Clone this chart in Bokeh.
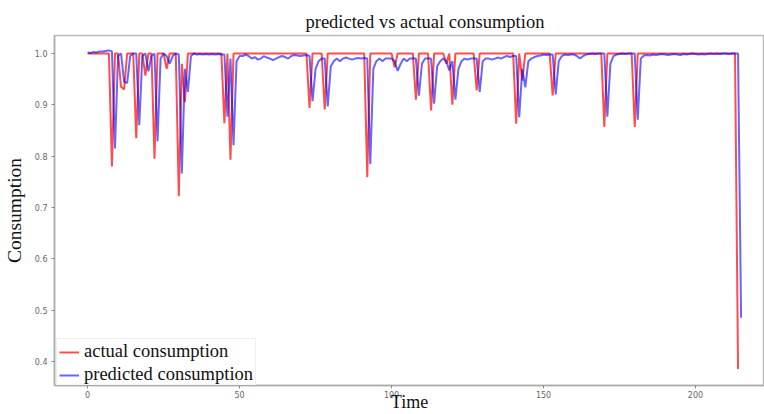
from bokeh.plotting import figure
from bokeh.models import Range1d, FixedTicker, Legend, LegendItem, NumeralTickFormatter
from bokeh.embed import file_html
from bokeh.resources import INLINE

title_text = "predicted vs actual consumption"
x_label = "Time"
y_label = "Consumption"
x_ticks = [0, 50, 100, 150, 200]
y_ticks = [0.4, 0.5, 0.6, 0.7, 0.8, 0.9, 1.0]

actual = [
    1.0, 1.0, 1.0, 1.0, 1.0, 1.0, 1.0, 1.0, 0.78, 1.0,      # 0-9
    1.0, 0.935, 0.93, 1.0, 1.0, 1.0, 0.835, 1.0, 1.0, 0.957,  # 10-19
    1.0, 1.0, 0.795, 1.0, 1.0, 1.0, 0.97, 1.0, 1.0, 1.0,      # 20-29
    0.722, 0.98, 0.905, 1.0, 1.0, 1.0, 1.0, 1.0, 1.0, 1.0,    # 30-39
    1.0, 1.0, 1.0, 1.0, 1.0, 0.864, 1.0, 0.793, 1.0, 1.0,     # 40-49
    1.0, 1.0, 1.0, 1.0, 1.0, 1.0, 1.0, 1.0, 1.0, 1.0,         # 50-59
    1.0, 1.0, 1.0, 1.0, 1.0, 1.0, 1.0, 1.0, 1.0, 1.0,         # 60-69
    1.0, 1.0, 1.0, 0.894, 1.0, 1.0, 1.0, 1.0, 0.891, 1.0,     # 70-79
    1.0, 1.0, 1.0, 1.0, 1.0, 1.0, 1.0, 1.0, 1.0, 1.0,         # 80-89
    1.0, 1.0, 0.759, 1.0, 1.0, 1.0, 1.0, 1.0, 1.0, 1.0,       # 90-99
    1.0, 0.973, 1.0, 1.0, 1.0, 1.0, 1.0, 1.0, 0.91, 1.0,      # 100-109
    1.0, 1.0, 1.0, 0.889, 1.0, 1.0, 1.0, 1.0, 0.98, 1.0,      # 110-119
    0.90, 1.0, 1.0, 1.0, 1.0, 1.0, 1.0, 1.0, 0.928, 1.0,      # 120-129
    1.0, 1.0, 1.0, 1.0, 1.0, 1.0, 1.0, 1.0, 1.0, 1.0,         # 130-139
    1.0, 0.863, 1.0, 0.947, 1.0, 1.0, 1.0, 1.0, 1.0, 1.0,     # 140-149
    1.0, 1.0, 1.0, 0.918, 1.0, 1.0, 1.0, 1.0, 1.0, 1.0,       # 150-159
    1.0, 1.0, 1.0, 1.0, 1.0, 1.0, 1.0, 1.0, 1.0, 1.0,         # 160-169
    0.857, 1.0, 1.0, 1.0, 1.0, 1.0, 1.0, 1.0, 1.0, 1.0,       # 170-179
    0.857, 1.0, 1.0, 1.0, 1.0, 1.0, 1.0, 1.0, 1.0, 1.0,       # 180-189
    1.0, 1.0, 1.0, 1.0, 1.0, 1.0, 1.0, 1.0, 1.0, 1.0,         # 190-199
    1.0, 1.0, 1.0, 1.0, 1.0, 1.0, 1.0, 1.0, 1.0, 1.0,         # 200-209
    1.0, 1.0, 1.0, 1.0, 0.385,                                # 210-214
]

predicted = [
    1.002, 1.001, 1.003, 1.002, 1.004, 1.004, 1.005, 1.006, 1.004, 0.815,   # 0-9
    0.995, 1.0, 0.945, 0.942, 0.995, 1.0, 1.0, 0.86, 0.995, 1.0,            # 10-19
    0.965, 0.995, 1.0, 0.829, 0.99, 1.0, 0.995, 0.98, 0.995, 1.0,           # 20-29
    0.998, 0.766, 0.97, 0.925, 0.995, 1.0, 0.998, 0.999, 0.998, 0.999,      # 30-39
    0.998, 0.999, 0.998, 0.999, 0.998, 0.998, 0.877, 0.99, 0.821, 0.985,    # 40-49
    0.995, 0.995, 0.998, 0.995, 0.99, 0.993, 0.988, 0.99, 0.995, 0.992,     # 50-59
    0.99, 0.987, 0.99, 0.993, 0.995, 0.993, 0.99, 0.995, 0.997, 0.996,      # 60-69
    0.995, 0.996, 0.997, 0.995, 0.907, 0.97, 0.985, 0.99, 0.99, 0.897,      # 70-79
    0.975, 0.985, 0.99, 0.985, 0.99, 0.992, 0.99, 0.988, 0.99, 0.991,       # 80-89
    0.99, 0.991, 0.99, 0.784, 0.97, 0.985, 0.99, 0.985, 0.99, 0.99,         # 90-99
    0.99, 0.985, 0.966, 0.98, 0.99, 0.985, 0.99, 0.99, 0.99, 0.918,         # 100-109
    0.98, 0.99, 0.99, 0.99, 0.902, 0.975, 0.985, 0.99, 0.985, 0.967,        # 110-119
    0.985, 0.91, 0.97, 0.985, 0.99, 0.988, 0.99, 0.99, 0.99, 0.925,         # 120-129
    0.985, 0.99, 0.99, 0.988, 0.99, 0.992, 0.99, 0.993, 0.995, 0.993,       # 130-139
    0.995, 0.995, 0.876, 0.97, 0.934, 0.985, 0.99, 0.993, 0.995, 0.996,     # 140-149
    0.998, 0.997, 0.998, 0.998, 0.92, 0.985, 0.995, 0.998, 0.997, 0.998,    # 150-159
    0.998, 0.995, 0.99, 0.995, 0.998, 0.999, 1.0, 0.999, 1.0, 1.0,          # 160-169
    1.0, 0.877, 0.98, 0.995, 0.998, 0.999, 1.0, 0.999, 1.0, 1.0,            # 170-179
    1.0, 0.871, 0.99, 0.996, 0.997, 0.996, 0.998, 0.997, 0.998, 0.999,      # 180-189
    0.998, 0.997, 0.998, 0.999, 0.998, 0.997, 0.999, 0.998, 0.999, 1.0,     # 190-199
    0.999, 0.998, 0.999, 0.998, 0.999, 1.0, 0.999, 1.0, 0.999, 1.0,         # 200-209
    1.0, 0.999, 1.0, 1.0, 1.0, 0.485,                                       # 210-215
]

t_actual = list(range(len(actual)))
t_pred = list(range(len(predicted)))

SERIF = "Liberation Serif"
SANS = "DejaVu Sans"

p = figure(width=764, height=414, output_backend="svg", toolbar_location=None,
           x_range=Range1d(-10.9, 222.7), y_range=Range1d(0.353, 1.035),
           min_border_left=54, min_border_right=0, min_border_top=35, min_border_bottom=29)

p.title.text = title_text
p.title.text_font = SERIF
p.title.text_font_size = "18.5px"
p.title.text_font_style = "normal"
p.title.text_color = "#111111"
p.title.align = "left"
p.title.offset = 251
p.title.standoff = 8

p.xgrid.visible = False
p.ygrid.visible = False
p.outline_line_color = "#bbbbbb"
p.outline_line_width = 1.5
p.background_fill_color = "white"
p.border_fill_color = "white"

for ax in (p.xaxis[0], p.yaxis[0]):
    ax.axis_line_color = "#aaaaaa"
    ax.axis_line_width = 1.5
    ax.major_tick_line_color = "#888888"
    ax.major_tick_out = 3
    ax.major_tick_in = 0
    ax.minor_tick_line_color = None
    ax.major_label_text_font = SANS
    ax.major_label_text_font_size = "8px"
    ax.major_label_text_color = "#666666"
    ax.axis_label_text_font = SERIF
    ax.axis_label_text_font_style = "normal"
    ax.axis_label_text_color = "#111111"

p.xaxis.axis_label_text_font_size = "18px"
p.yaxis.axis_label_text_font_size = "19.5px"
p.xaxis.ticker = FixedTicker(ticks=x_ticks)
p.yaxis.ticker = FixedTicker(ticks=y_ticks)
p.yaxis.formatter = NumeralTickFormatter(format="0.0")
p.xaxis.axis_label = x_label
p.yaxis.axis_label = y_label
p.xaxis.axis_label_standoff = -9
p.yaxis.axis_label_standoff = 7
p.xaxis.major_label_standoff = 2
p.yaxis.major_label_standoff = 4

r1 = p.line(t_actual, actual, line_color="#ff0000", line_alpha=0.7, line_width=2)
r2 = p.line(t_pred, predicted, line_color="#0000ff", line_alpha=0.6, line_width=2)

legend = Legend(items=[LegendItem(label="actual consumption", renderers=[r1]),
                       LegendItem(label="predicted consumption", renderers=[r2])],
                location=(2, -3))
legend.label_text_font = SERIF
legend.label_text_font_size = "18.5px"
legend.label_text_color = "#111111"
legend.label_height = 18
legend.glyph_height = 18
legend.glyph_width = 20
legend.spacing = 2
legend.padding = 2
legend.margin = 0
legend.label_standoff = 5
legend.border_line_color = "#dddddd"
legend.background_fill_alpha = 0.8
p.add_layout(legend, "center")

open("out.html", "w").write(file_html(p, INLINE))
